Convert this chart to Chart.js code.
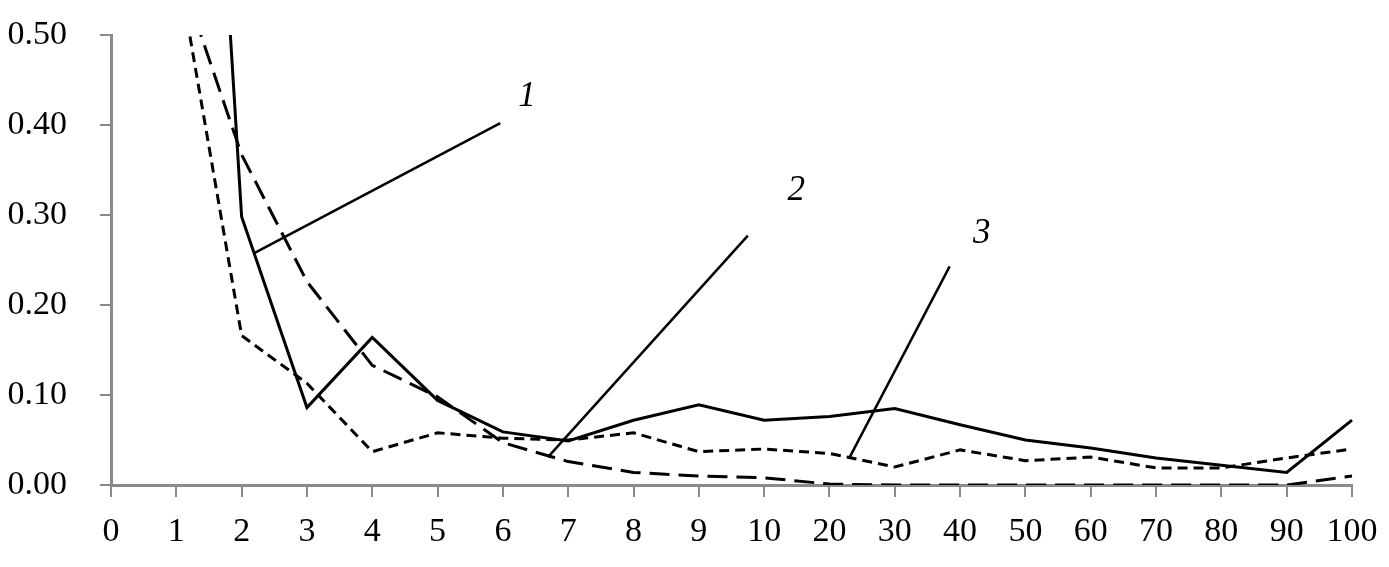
<!DOCTYPE html>
<html>
<head>
<meta charset="utf-8">
<script src="https://cdn.jsdelivr.net/npm/chart.js@4"></script>
<style>
  html, body { margin: 0; padding: 0; background: #fff; }
  #wrap { width: 1389px; height: 567px; }
</style>
</head>
<body>
<div id="wrap"><canvas id="chart"></canvas></div>
<script>
// categories on the x axis
const labels = ['0', '1', '2', '3', '4', '5', '6', '7', '8', '9', '10', '20', '30', '40', '50', '60', '70', '80', '90', '100'];

// series values (values above 0.50 run off the top)
const series1 = [null, 1.47, 0.298, 0.086, 0.164, 0.094, 0.059, 0.049, 0.072, 0.089, 0.072, 0.076, 0.085, 0.067, 0.050, 0.041, 0.030, 0.022, 0.014, 0.072];
const series2 = [null, 0.58, 0.367, 0.226, 0.133, 0.098, 0.047, 0.026, 0.014, 0.010, 0.008, 0.001, 0, 0, 0, 0, 0, 0, 0, 0.010];
const series3 = [null, 0.586, 0.166, 0.113, 0.037, 0.058, 0.052, 0.050, 0.058, 0.037, 0.040, 0.035, 0.020, 0.039, 0.027, 0.031, 0.019, 0.019, 0.030, 0.040];

// y tick values
const yTicks = [0, 0.1, 0.2, 0.3, 0.4, 0.5];

// callouts: text and leader line ends, in axis units (category index, value)
const calloutText = ['1', '2', '3'];
const calloutFrom = [[2.20, 0.258], [6.69, 0.031], [11.31, 0.031]];
const calloutTo = [[5.96, 0.402], [9.75, 0.277], [12.84, 0.243]];
const calloutAt = [[6.37, 0.431], [10.49, 0.327], [13.33, 0.279]];

const axisGray = '#8a8a8a';
const serif = "'Liberation Serif', 'Times New Roman', serif";

const callouts = {
  id: 'callouts',
  afterDatasetsDraw(chart) {
    const { ctx, scales: { x, y } } = chart;
    ctx.save();
    ctx.strokeStyle = '#000';
    ctx.lineWidth = 2.5;
    ctx.setLineDash([]);
    calloutText.forEach((t, i) => {
      ctx.beginPath();
      ctx.moveTo(x.getPixelForValue(calloutFrom[i][0]), y.getPixelForValue(calloutFrom[i][1]));
      ctx.lineTo(x.getPixelForValue(calloutTo[i][0]), y.getPixelForValue(calloutTo[i][1]));
      ctx.stroke();
      ctx.font = 'italic 35px ' + serif;
      ctx.fillStyle = '#000';
      ctx.textAlign = 'center';
      ctx.textBaseline = 'middle';
      ctx.fillText(t, x.getPixelForValue(calloutAt[i][0]), y.getPixelForValue(calloutAt[i][1]));
    });
    ctx.restore();
  }
};

new Chart(document.getElementById('chart'), {
  type: 'line',
  data: {
    labels: labels,
    datasets: [
      {
        label: '1',
        data: series1,
        borderColor: '#000',
        borderWidth: 3,
        pointRadius: 0,
        tension: 0
      },
      {
        label: '2',
        data: series2,
        borderColor: '#000',
        borderWidth: 3,
        borderDash: [20, 9],
        pointRadius: 0,
        tension: 0
      },
      {
        label: '3',
        data: series3,
        borderColor: '#000',
        borderWidth: 3,
        borderDash: [10, 6],
        pointRadius: 0,
        tension: 0
      }
    ]
  },
  plugins: [callouts],
  options: {
    responsive: true,
    maintainAspectRatio: false,
    animation: false,
    layout: { padding: { left: 0, right: 37, top: 35, bottom: 0 } },
    plugins: {
      legend: { display: false },
      tooltip: { enabled: false }
    },
    scales: {
      x: {
        offset: false,
        afterFit: (axis) => {
          axis.height = 82;
          axis.paddingLeft = 0;
          axis.paddingRight = 0;
        },
        grid: { display: true, drawOnChartArea: false, drawTicks: true, tickLength: 12, color: axisGray, lineWidth: 2 },
        border: { display: true, color: axisGray, width: 3 },
        ticks: {
          color: '#000',
          font: { family: serif, size: 34 },
          padding: 15,
          maxRotation: 0,
          autoSkip: false
        }
      },
      y: {
        min: 0,
        max: 0.5,
        afterFit: (axis) => {
          axis.width = 111;
          axis.paddingTop = 0;
          axis.paddingBottom = 0;
        },
        afterBuildTicks: (axis) => { axis.ticks = yTicks.map(v => ({ value: v })); },
        grid: { display: true, drawOnChartArea: false, drawTicks: true, tickLength: 11, color: axisGray, lineWidth: 2 },
        border: { display: true, color: axisGray, width: 3 },
        ticks: {
          color: '#000',
          font: { family: serif, size: 34 },
          padding: 33,
          callback: (v) => Number(v).toFixed(2)
        }
      }
    }
  }
});
</script>
</body>
</html>
